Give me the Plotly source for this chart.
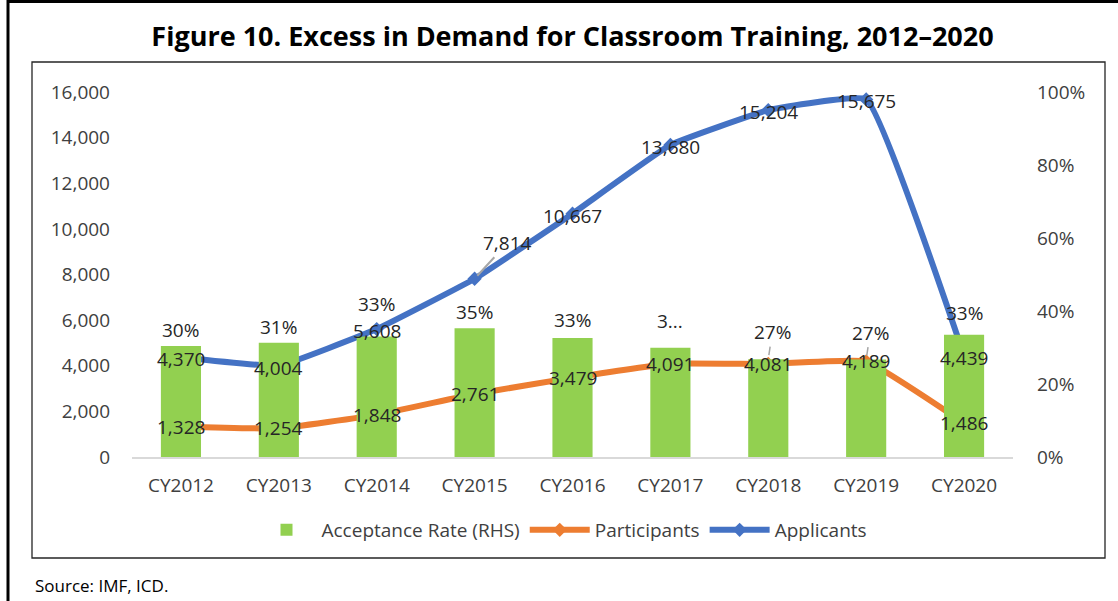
import plotly.graph_objects as go

# ---- data ----
years = ["CY2012", "CY2013", "CY2014", "CY2015", "CY2016", "CY2017", "CY2018", "CY2019", "CY2020"]
applicants = [4370, 4004, 5608, 7814, 10667, 13680, 15204, 15675, 4439]
participants = [1328, 1254, 1848, 2761, 3479, 4091, 4081, 4189, 1486]
acceptance_rate = [30.4, 31.3, 33.0, 35.3, 32.6, 29.9, 26.8, 26.7, 33.5]
rate_labels = ["30%", "31%", "33%", "35%", "33%", "3...", "27%", "27%", "33%"]
left_ticks = [0, 2000, 4000, 6000, 8000, 10000, 12000, 14000, 16000]
right_ticks = [0, 20, 40, 60, 80, 100]
right_tick_text = ["0%", "20%", "40%", "60%", "80%", "100%"]

# ---- layout geometry (pixels) ----
W, H = 1118, 601
L, R, T, B = 132, 1013, 92, 457
PW, PH = R - L, B - T


def px(x):
    return (x - L) / PW


def py(y):
    return (B - y) / PH


GREEN = "#92D050"
ORANGE = "#ED7D31"
BLUE = "#4472C4"
TICK = "#404040"
LABEL = "#262626"
FONT = "Open Sans"

fig = go.Figure()
fig.add_trace(go.Bar(
    x=years, y=acceptance_rate, name="Acceptance Rate (RHS)", yaxis="y2",
    marker=dict(color=GREEN, line=dict(width=0)), width=0.41,
))
fig.add_trace(go.Scatter(
    x=years, y=participants, name="Participants", mode="lines+markers",
    line=dict(color=ORANGE, width=6, shape="spline", smoothing=0.3),
    marker=dict(symbol="diamond", size=11, color=ORANGE),
))
fig.add_trace(go.Scatter(
    x=years, y=applicants, name="Applicants", mode="lines+markers",
    line=dict(color=BLUE, width=6, shape="spline", smoothing=0.3),
    marker=dict(symbol="diamond", size=11, color=BLUE),
))

annotations = []
# bar (rate) labels: shift above bar top, some with leader lines
rate_shift = [16, 16, 33, 16, 18, 27, 27, 27, 22]
rate_leader = [False, False, False, False, False, False, True, True, False]
for i, (cat, v, lab) in enumerate(zip(years, acceptance_rate, rate_labels)):
    if rate_leader[i]:
        annotations.append(dict(
            x=cat, y=v, xref="x", yref="y2", text=lab, showarrow=True,
            ax=4, ay=-rate_shift[i], arrowhead=0, arrowwidth=1.5,
            arrowcolor="#A6A6A6", standoff=4,
            font=dict(family=FONT, size=19, color=LABEL),
        ))
    else:
        annotations.append(dict(
            x=cat, y=v, xref="x", yref="y2", text=lab, showarrow=False,
            yshift=rate_shift[i], font=dict(family=FONT, size=19, color=LABEL),
        ))

for cat, v in zip(years, participants):
    annotations.append(dict(
        x=cat, y=v, xref="x", yref="y", text=f"{v:,}", showarrow=False,
        font=dict(family=FONT, size=19, color=LABEL),
    ))

for i, (cat, v) in enumerate(zip(years, applicants)):
    if i == 3:
        annotations.append(dict(
            x=cat, y=v, xref="x", yref="y", text=f"{v:,}", showarrow=True,
            ax=33, ay=-36, arrowhead=0, arrowwidth=2, arrowcolor="#A6A6A6",
            standoff=4, font=dict(family=FONT, size=19, color=LABEL),
        ))
    else:
        annotations.append(dict(
            x=cat, y=v, xref="x", yref="y", text=f"{v:,}", showarrow=False,
            yshift=-2, font=dict(family=FONT, size=19, color=LABEL),
        ))

annotations.append(dict(
    x=px(33), y=py(585), xref="paper", yref="paper", xanchor="left", yanchor="middle",
    text="Source: IMF, ICD.", showarrow=False,
    font=dict(family=FONT, size=17, color="#000000"),
))

shapes = [
    # inner chart box
    dict(type="rect", xref="paper", yref="paper", x0=px(32), x1=px(1105),
         y0=py(62), y1=py(558), line=dict(color="#262626", width=1.3),
         fillcolor="rgba(0,0,0,0)", layer="below"),
    # outer frame (left and top)
    dict(type="line", xref="paper", yref="paper", x0=px(8), x1=px(8),
         y0=py(0), y1=py(601), line=dict(color="#000000", width=3)),
    dict(type="line", xref="paper", yref="paper", x0=px(7), x1=px(1118),
         y0=py(1.5), y1=py(1.5), line=dict(color="#000000", width=3)),
]

fig.update_layout(
    width=W, height=H,
    margin=dict(l=L, r=W - R, t=T, b=H - B, pad=0),
    paper_bgcolor="white", plot_bgcolor="white",
    font=dict(family=FONT, size=19, color=TICK),
    title=dict(
        text="<b>Figure 10. Excess in Demand for Classroom Training, 2012–2020</b>",
        x=0.5, xref="paper", xanchor="center",
        y=1 - 37 / H, yref="container", yanchor="middle",
        font=dict(family=FONT, size=27, color="#000000"),
    ),
    xaxis=dict(
        type="category", range=[-0.5, 8.5], showgrid=False, showline=True,
        linecolor="#D9D9D9", linewidth=1.5, ticks="", ticklabelstandoff=10,
        tickfont=dict(family=FONT, size=19, color=TICK), fixedrange=True,
    ),
    yaxis=dict(
        range=[0, 16000], tickvals=left_ticks, tickformat=",", showgrid=False,
        zeroline=False, showline=False, ticks="", ticklabelstandoff=21,
        tickfont=dict(family=FONT, size=19, color=TICK),
    ),
    yaxis2=dict(
        range=[0, 100], tickvals=right_ticks, ticktext=right_tick_text, overlaying="y",
        side="right", showgrid=False, zeroline=False, showline=False, ticks="",
        ticklabelstandoff=23, tickfont=dict(family=FONT, size=19, color=TICK),
    ),
    showlegend=True,
    legend=dict(
        orientation="h", x=px(562), xanchor="center", y=py(530), yanchor="middle",
        font=dict(family=FONT, size=19, color=TICK), itemwidth=60,
        traceorder="normal", bgcolor="rgba(0,0,0,0)",
    ),
    annotations=annotations,
    shapes=shapes,
    bargap=0.59,
)

fig.write_html("out.html", post_script="document.body.style.margin='0';",
               config={"displayModeBar": False})
